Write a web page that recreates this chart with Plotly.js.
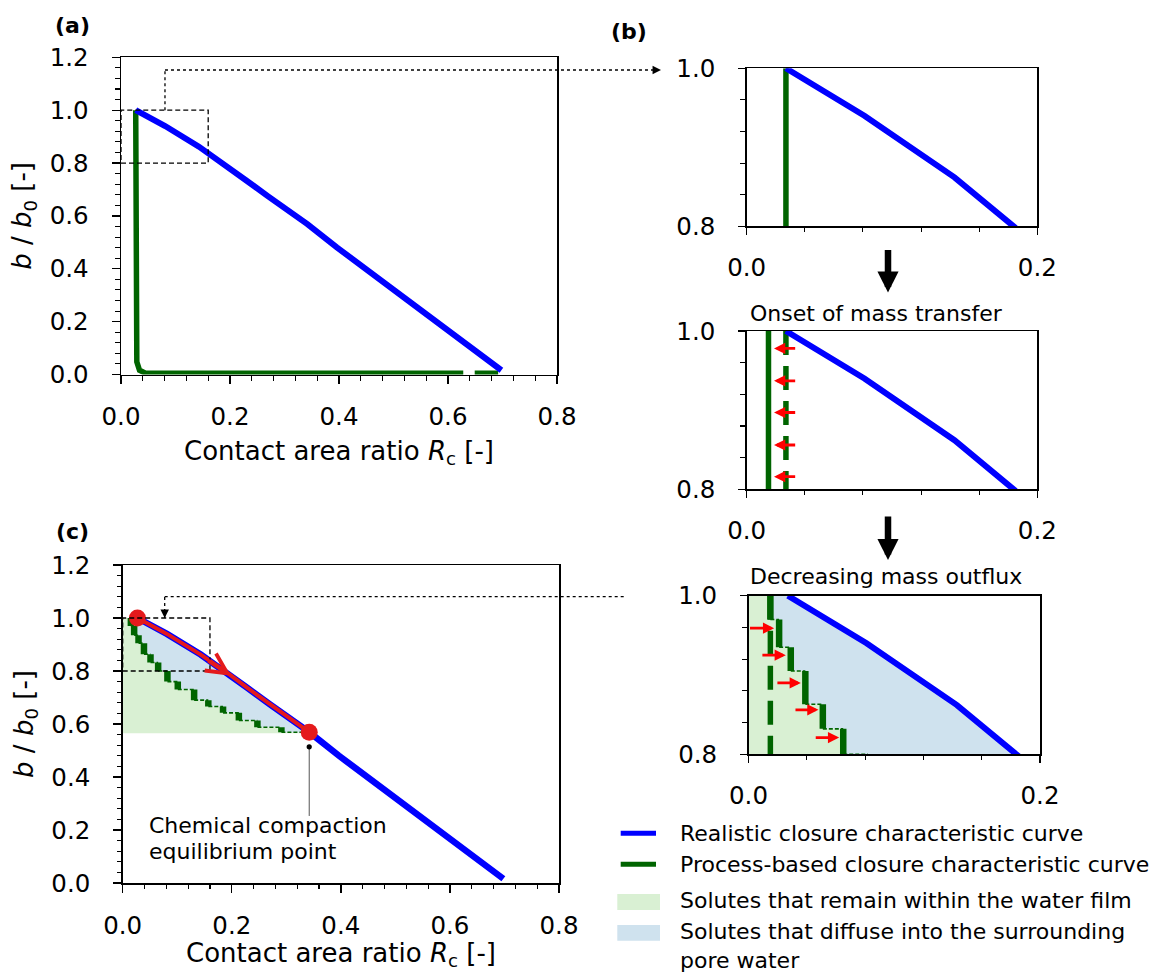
<!DOCTYPE html>
<html><head><meta charset="utf-8">
<script src="https://cdn.plot.ly/plotly-3.0.1.min.js"></script>
<style>html,body{margin:0;padding:0;background:#fff;}#chart{width:1156px;height:972px;}</style>
</head><body><div id="chart"></div>
<script>
// ---------------- data ----------------
// Realistic closure characteristic curve: contact area ratio Rc vs b/b0
const realisticRc = [0.027,0.045,0.081,0.143,0.187,0.228,0.270,0.342,0.396,0.452,0.487,0.530,0.565,0.628,0.649,0.698];
const realisticB  = [1.000,0.980,0.940,0.862,0.800,0.737,0.674,0.569,0.481,0.396,0.343,0.277,0.219,0.123,0.092,0.016];
// Process-based closure characteristic curve (initial)
const processRc = [0.027,0.027,0.029,0.034,0.045,0.628,null,0.649,0.692];
const processB  = [1.000,0.110,0.048,0.016,0.005,0.005,null,0.005,0.005];
// Process-based curve after onset of mass transfer
const shiftedRc = [0.015,0.015];
const shiftedB  = [1.000,0.800];
// Staircase (decreasing mass outflux): step positions and vertical extents
const stepRc   = [0.015,0.021,0.029,0.039,0.051,0.065,0.082,0.101,0.131,0.157,0.184,0.213,0.247,0.291];
const stepTopB = [1.000,0.970,0.935,0.905,0.863,0.832,0.800,0.760,0.730,0.690,0.666,0.642,0.613,0.588];
const stepBotB = [0.970,0.935,0.905,0.863,0.832,0.800,0.760,0.730,0.690,0.666,0.642,0.613,0.588,0.569];
// Chemical compaction equilibrium point
const eqRc = 0.342, eqB = 0.569;
const filmFloorB = 0.565;
// Red arrows, panel (b) middle: mass transfer to the left
const onsetArrowB = [0.978,0.937,0.897,0.856,0.816];
const onsetArrowFrom = 0.0344, onsetArrowTo = 0.0188;
// Red arrows, panel (b) bottom: outflux to the right
const outfluxArrowB    = [0.959,0.925,0.890,0.856,0.821];
const outfluxArrowFrom = [0.000,0.0085,0.0188,0.0312,0.0451];
const outfluxArrowTo   = [0.0176,0.0256,0.0359,0.0480,0.0622];
// Labels
const legendLabels = ['Realistic closure characteristic curve','Process-based closure characteristic curve',
  'Solutes that remain within the water film','Solutes that diffuse into the surrounding','pore water'];
const xTitle = 'Contact area ratio <i>R</i><sub>c</sub> [-]';
const yTitle = '<i>b</i> / <i>b</i><sub>0</sub> [-]';

// ---------------- styling / geometry ----------------
const W = 1156, H = 972;
const BLUE = '#0000ff', GREEN = '#006400', RED = '#e41a1c', ARED = '#ff0000';
const FILL_G = '#d9f0d3', FILL_B = '#cfe2ee';
const FONT = 'DejaVu Sans';
const PX = v => v / W, PY = v => 1 - v / H;

const box = {
  a:  {x:[121, 557],    y:[374.5, 57.3],  rx:[0,0.8], ry:[0,1.2]},
  b1: {x:[746.7,1037.3],y:[226.3, 68.3],  rx:[0,0.2], ry:[0.8,1.0]},
  b2: {x:[746.7,1037.3],y:[489.3, 331],   rx:[0,0.2], ry:[0.8,1.0]},
  b3: {x:[748.5,1040],  y:[754.2, 595.7], rx:[0,0.2], ry:[0.8,1.0]},
  c:  {x:[122.7, 559],  y:[883, 565],     rx:[0,0.8], ry:[0,1.2]}
};
function toPaperX(b, v){ return PX(b.x[0] + (v-b.rx[0])/(b.rx[1]-b.rx[0])*(b.x[1]-b.x[0])); }
function toPaperY(b, v){ return PY(b.y[0] + (v-b.ry[0])/(b.ry[1]-b.ry[0])*(b.y[1]-b.y[0])); }

function mkX(b, anchor, big){
  return {
    domain:[PX(b.x[0]), PX(b.x[1])], range:b.rx, anchor:anchor,
    tickmode:'linear', tick0:b.rx[0], dtick:0.2, tickformat:'.1f',
    ticks:'outside', ticklen: big?8:7, tickwidth:1.3, tickcolor:'black',
    minor:{tickmode:'linear', tick0:b.rx[0], dtick:0.04, ticks:'outside', ticklen:4.5, tickwidth:1.1, tickcolor:'black', showgrid:false},
    showline:true, mirror:true, linecolor:'black', linewidth:1.5,
    showgrid:false, zeroline:false, tickfont:{family:FONT, size:24.5, color:'black'},
    ticklabelstandoff:12, fixedrange:true
  };
}
function mkY(b, anchor, big, title){
  const o = {
    domain:[PY(b.y[0]), PY(b.y[1])], range:b.ry, anchor:anchor,
    tickmode:'linear', tick0:b.ry[0], dtick:0.2, tickformat:'.1f',
    ticks:'outside', ticklen: big?8:7, tickwidth:1.3, tickcolor:'black',
    minor:{tickmode:'linear', tick0:b.ry[0], dtick:0.04, ticks:'outside', ticklen: big?4.5:5, tickwidth:1.1, tickcolor:'black', showgrid:false},
    showline:true, mirror:true, linecolor:'black', linewidth:1.5,
    showgrid:false, zeroline:false, tickfont:{family:FONT, size:24.5, color:'black'},
    ticklabelstandoff:18, fixedrange:true
  };
  if(title) o.title = {text:title, font:{family:FONT, size:26, color:'black'}, standoff:10};
  return o;
}

// ---------------- derived geometry from data ----------------
const stairX = [], stairY = [];
const vertX = [], vertY = [], connX = [], connY = [];
for(let i=0;i<stepRc.length;i++){
  const nx = (i+1<stepRc.length) ? stepRc[i+1] : eqRc;
  stairX.push(stepRc[i], stepRc[i], nx);
  stairY.push(stepTopB[i], stepBotB[i], stepBotB[i]);
  vertX.push(stepRc[i], stepRc[i], null); vertY.push(stepTopB[i], stepBotB[i], null);
  connX.push(stepRc[i], nx, null); connY.push(stepBotB[i], stepBotB[i], null);
}
const pathRc = [], pathB = [];
realisticRc.forEach((r,i)=>{ if(r <= eqRc + 1e-9){ pathRc.push(r); pathB.push(realisticB[i]); } });
const greenPolyX = [0].concat(stairX, [eqRc, 0]);
const greenPolyY = [stepTopB[0]].concat(stairY, [filmFloorB, filmFloorB]);
const bluePolyX = pathRc.concat(stairX.slice().reverse());
const bluePolyY = pathB.concat(stairY.slice().reverse());

// ---------------- traces ----------------
function ln(x, y, xa, ya, color, width, dash){
  return {type:'scatter', mode:'lines', x:x, y:y, xaxis:xa, yaxis:ya, hoverinfo:'skip', showlegend:false,
          line:{color:color, width:width, dash:dash||'solid'}};
}
function fl(x, y, xa, ya, color){
  return {type:'scatter', mode:'lines', x:x, y:y, xaxis:xa, yaxis:ya, fill:'toself', fillcolor:color,
          line:{width:0, color:color}, hoverinfo:'skip', showlegend:false};
}
const traces = [
  // (a)
  ln(processRc, processB, 'x', 'y', GREEN, 5.5),
  ln(realisticRc, realisticB, 'x', 'y', BLUE, 6),
  // (b) top
  ln(processRc, processB, 'x2', 'y2', GREEN, 5.5),
  ln(realisticRc, realisticB, 'x2', 'y2', BLUE, 6),
  // (b) middle
  ln(processRc, processB, 'x3', 'y3', GREEN, 5.5, '24px,11px'),
  ln(shiftedRc, shiftedB, 'x3', 'y3', GREEN, 5.5),
  ln(realisticRc, realisticB, 'x3', 'y3', BLUE, 6),
  // (b) bottom
  fl(greenPolyX, greenPolyY, 'x4', 'y4', FILL_G),
  fl(bluePolyX, bluePolyY, 'x4', 'y4', FILL_B),
  ln(shiftedRc, shiftedB, 'x4', 'y4', GREEN, 5.5, '24px,11px'),
  ln(connX, connY, 'x4', 'y4', GREEN, 1.6, '4px,2px'),
  ln(vertX, vertY, 'x4', 'y4', GREEN, 6.5),
  ln(realisticRc, realisticB, 'x4', 'y4', BLUE, 6),
  // (c)
  fl(greenPolyX, greenPolyY, 'x5', 'y5', FILL_G),
  fl(bluePolyX, bluePolyY, 'x5', 'y5', FILL_B),
  ln(connX, connY, 'x5', 'y5', GREEN, 1.6, '4px,2px'),
  ln(vertX, vertY, 'x5', 'y5', GREEN, 6.5),
  ln(realisticRc, realisticB, 'x5', 'y5', BLUE, 6.5),
  ln(pathRc, pathB, 'x5', 'y5', RED, 4),
  {type:'scatter', mode:'markers', x:[pathRc[0], eqRc], y:[pathB[0], eqB], xaxis:'x5', yaxis:'y5',
   marker:{color:RED, size:17}, cliponaxis:false, hoverinfo:'skip', showlegend:false}
];

// ---------------- annotations ----------------
const ann = [];
function txt(x, y, text, size, opts){
  ann.push(Object.assign({xref:'paper', yref:'paper', x:x, y:y, text:text, showarrow:false,
    xanchor:'left', yanchor:'middle', font:{family:FONT, size:size, color:'black'}}, opts||{}));
}
txt(PX(72.4), PY(25.7), '<b>(a)</b>', 22, {xanchor:'center'});
txt(PX(629), PY(32), '<b>(b)</b>', 22, {xanchor:'center'});
txt(PX(72.3), PY(531.6), '<b>(c)</b>', 22, {xanchor:'center'});
// x-axis titles of (a) and (c)
txt(PX((box.a.x[0]+box.a.x[1])/2), PY(452), xTitle, 26, {xanchor:'center'});
txt(PX((box.c.x[0]+box.c.x[1])/2), PY(954), xTitle, 26, {xanchor:'center'});
txt(PX(747.7), PY(313.2), 'Onset of mass transfer', 22);
txt(PX(747.7), PY(576.4), 'Decreasing mass outflux', 22);
ann.push({xref:'x5', yref:'y5', x:0.045, y:0.216, text:'Chemical compaction', showarrow:false, xanchor:'left', yanchor:'middle', font:{family:FONT, size:22, color:'black'}});
ann.push({xref:'x5', yref:'y5', x:0.045, y:0.119, text:'equilibrium point', showarrow:false, xanchor:'left', yanchor:'middle', font:{family:FONT, size:22, color:'black'}});
// red arrows (b) middle
onsetArrowB.forEach(v => ann.push({xref:'x3', yref:'y3', axref:'x3', ayref:'y3', x:onsetArrowTo, y:v, ax:onsetArrowFrom, ay:v,
  text:'', showarrow:true, arrowhead:2, arrowwidth:2.8, arrowsize:0.8, arrowcolor:ARED}));
// red arrows (b) bottom
outfluxArrowB.forEach((v,i) => ann.push({xref:'x4', yref:'y4', axref:'x4', ayref:'y4', x:outfluxArrowTo[i], y:v, ax:outfluxArrowFrom[i], ay:v,
  text:'', showarrow:true, arrowhead:2, arrowwidth:2.8, arrowsize:0.8, arrowcolor:ARED}));
// red direction chevron on the path in (c)
ann.push({xref:'x5', yref:'y5', x:0.1985, y:0.782, ax:-24, ay:-16, text:'', showarrow:true,
  arrowhead:5, arrowwidth:4, arrowsize:1.0, arrowcolor:RED});
// big black arrows between (b) panels
ann.push({xref:'paper', yref:'paper', x:PX(888), y:PY(292.6), ax:0, ay:-44, text:'', showarrow:true, arrowhead:2, arrowwidth:6.5, arrowsize:0.65, arrowcolor:'black'});
ann.push({xref:'paper', yref:'paper', x:PX(888), y:PY(560), ax:0, ay:-45, text:'', showarrow:true, arrowhead:2, arrowwidth:6.5, arrowsize:0.65, arrowcolor:'black'});
// small arrowheads at the end of dotted connectors
ann.push({xref:'paper', yref:'paper', x:PX(661), y:toPaperY(box.a, 1.152), ax:-6, ay:0, text:'', showarrow:true, arrowhead:2, arrowwidth:1.3, arrowsize:1.3, arrowcolor:'black'});
ann.push({xref:'x5', yref:'y5', x:0.077, y:1.0, ax:0, ay:-6, text:'', showarrow:true, arrowhead:2, arrowwidth:1.3, arrowsize:1.3, arrowcolor:'black'});
// legend texts
const legY = [833, 864, 900, 931.7, 960];
legendLabels.forEach((t,i) => txt(PX(677.7), PY(legY[i]), t, 22));

// ---------------- shapes ----------------
const shapes = [];
const dashBox = {color:'black', width:1.3, dash:'5px,3px'};
const dotLn = {color:'black', width:1.3, dash:'dot'};
shapes.push({type:'rect', xref:'x', yref:'y', x0:0, x1:0.16, y0:0.8, y1:1.0, line:dashBox});
shapes.push({type:'line', xref:'x', yref:'y', x0:0.0807, x1:0.0807, y0:1.0, y1:1.152, line:dotLn});
shapes.push({type:'line', xref:'paper', yref:'paper', x0:toPaperX(box.a,0.0807), x1:PX(656), y0:toPaperY(box.a,1.152), y1:toPaperY(box.a,1.152), line:dotLn});
shapes.push({type:'rect', xref:'x5', yref:'y5', x0:0, x1:0.16, y0:0.8, y1:1.0, line:dashBox});
shapes.push({type:'line', xref:'x5', yref:'y5', x0:0.077, x1:0.077, y0:1.0, y1:1.081, line:dotLn});
shapes.push({type:'line', xref:'paper', yref:'paper', x0:toPaperX(box.c,0.077), x1:PX(624.3), y0:toPaperY(box.c,1.081), y1:toPaperY(box.c,1.081), line:dotLn});
// equilibrium pointer
shapes.push({type:'line', xref:'x5', yref:'y5', x0:eqRc, x1:eqRc, y0:0.253, y1:0.514, line:{color:'#555555', width:1}});
shapes.push({type:'circle', xref:'x5', yref:'y5', xsizemode:'pixel', ysizemode:'pixel', xanchor:eqRc, yanchor:0.514,
  x0:-2.6, x1:2.6, y0:-2.6, y1:2.6, fillcolor:'black', line:{width:0}});
// legend symbols
shapes.push({type:'line', xref:'paper', yref:'paper', x0:PX(620.7), x1:PX(656), y0:PY(833.3), y1:PY(833.3), line:{color:BLUE, width:5}});
shapes.push({type:'line', xref:'paper', yref:'paper', x0:PX(620.7), x1:PX(656), y0:PY(864.3), y1:PY(864.3), line:{color:GREEN, width:5}});
shapes.push({type:'rect', xref:'paper', yref:'paper', x0:PX(617.3), x1:PX(660), y0:PY(910), y1:PY(894), fillcolor:FILL_G, line:{width:0}});
shapes.push({type:'rect', xref:'paper', yref:'paper', x0:PX(617.3), x1:PX(660), y0:PY(940.7), y1:PY(925), fillcolor:FILL_B, line:{width:0}});

const layout = {
  width:W, height:H, margin:{l:0, r:0, t:0, b:0},
  paper_bgcolor:'white', plot_bgcolor:'white', showlegend:false,
  font:{family:FONT, color:'black', size:22},
  xaxis:  mkX(box.a, 'y', true),   yaxis:  mkY(box.a, 'x', true, yTitle),
  xaxis2: mkX(box.b1, 'y2', false), yaxis2: mkY(box.b1, 'x2', false),
  xaxis3: mkX(box.b2, 'y3', false), yaxis3: mkY(box.b2, 'x3', false),
  xaxis4: mkX(box.b3, 'y4', false), yaxis4: mkY(box.b3, 'x4', false),
  xaxis5: mkX(box.c, 'y5', true),  yaxis5: mkY(box.c, 'x5', true, yTitle),
  annotations: ann, shapes: shapes
};
Plotly.newPlot('chart', traces, layout, {displayModeBar:false, staticPlot:true});
</script></body></html>
